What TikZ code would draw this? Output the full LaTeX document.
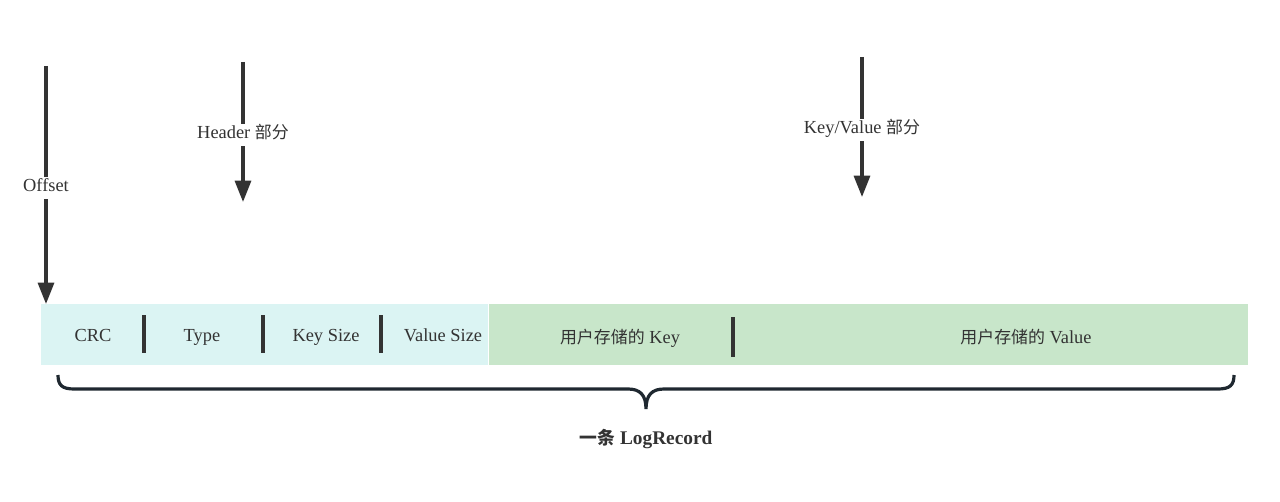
\documentclass[tikz,border=0pt]{standalone}
\usepackage{fontspec}
\setmainfont{Liberation Serif}
\newfontfamily\cjk[Scale=0.92]{Noto Sans CJK SC}
\usetikzlibrary{arrows.meta}
\definecolor{hdrcyan}{RGB}{219,244,243}
\definecolor{kvgreen}{RGB}{200,230,202}
\definecolor{ink}{RGB}{51,51,51}
\definecolor{braceink}{RGB}{31,40,48}
\tikzset{
  lbl/.style={font=\fontsize{13.8}{16}\selectfont, text=ink, inner xsep=1pt, inner ysep=3.5pt,
    text height=1.6ex, text depth=.4ex, yshift=-2.2pt},
  ptr/.style={-{Triangle[width=12pt,length=16pt]}, line width=2.4pt, draw=ink},
  sep/.style={line width=2.4pt, draw=ink},
}
\begin{document}
\begin{tikzpicture}[x=0.75pt, y=-0.75pt]
\useasboundingbox (0,0) rectangle (1280,502);
% record bar
\fill[hdrcyan] (41,304) rectangle (488,365);
\fill[kvgreen] (489,304) rectangle (1248,365);
\foreach \x in {144,263,381}
{
    \draw[sep] (\x,315) -- (\x,353);
}
\draw[sep] (733,317) -- (733,357);
% fields
\node[lbl] (crc) at (93,335) {CRC};
\node[lbl] (type) at (202,335) {Type};
\node[lbl] (keysize) at (326,335) {Key Size};
\node[lbl] (valsize) at (443,335) {Value Size};
\node[lbl] (ukey) at (620,337) {{\cjk 用户存储的} Key};
\node[lbl] (uval) at (1026,337) {{\cjk 用户存储的} Value};
% pointers
\coordinate (offtop) at (46,66);
\coordinate (offend) at (46,304);
\coordinate (hdrtop) at (243,62);
\coordinate (hdrend) at (243,202);
\coordinate (kvtop) at (862,57);
\coordinate (kvend) at (862,197);
\draw[ptr] (offtop) -- node[lbl, fill=white] (offset) {Offset} (offend);
\draw[ptr] (hdrtop) -- node[lbl, fill=white] (hdr) {Header {\cjk 部分}} (hdrend);
\draw[ptr] (kvtop) -- node[lbl, fill=white] (kv) {Key/Value {\cjk 部分}} (kvend);
% brace
\draw[line width=2.4pt, braceink] (58,375) .. controls (58,385) and (62,389) .. (74,389) -- (628,389)
    .. controls (640,389) and (646,395) .. (646,409)
    .. controls (646,395) and (652,389) .. (664,389) -- (1218,389)
    .. controls (1230,389) and (1234,385) .. (1234,375);
\node[lbl, font=\fontsize{14.5}{17}\selectfont\bfseries] (record) at (646,438) {{\cjk 一条} LogRecord};
\end{tikzpicture}
\end{document}
